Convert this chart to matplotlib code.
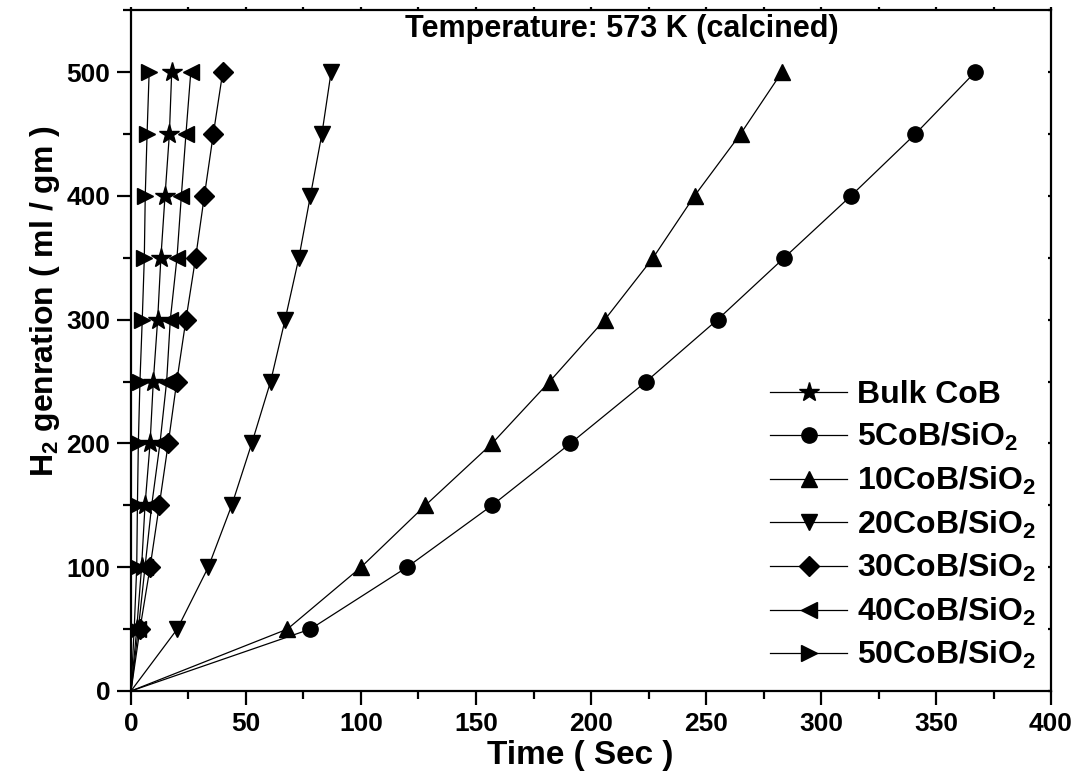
import matplotlib
matplotlib.use('Agg')
import matplotlib.pyplot as plt
from matplotlib.ticker import MultipleLocator

plt.rcParams['font.family'] = 'Liberation Sans'
plt.rcParams['font.weight'] = 'bold'
plt.rcParams['mathtext.default'] = 'regular'

# H2 volume steps (ml/gm), same for every sample
volume = [0, 50, 100, 150, 200, 250, 300, 350, 400, 450, 500]

# time (s) needed to reach each volume
t_bulk = [0, 2.5, 4.6, 6.1, 8.3, 9.7, 11.6, 13.0, 14.8, 16.7, 17.7]
t_5 = [0, 78, 120, 157, 191, 224, 255, 284, 313, 341, 367]
t_10 = [0, 68, 100, 128, 157, 182, 206, 227, 245, 265, 283]
t_20 = [0, 20.1, 33.6, 43.8, 52.5, 60.7, 67, 73, 78, 83, 87]
t_30 = [0, 3.9, 8.3, 12.3, 16.2, 19.9, 23.9, 28.1, 31.9, 35.8, 39.9]
t_40 = [0, 3.2, 6.1, 9.0, 12.6, 15.5, 17.1, 20.0, 21.9, 23.9, 26.0]
t_50 = [0, 1.4, 2.5, 2.8, 3.2, 3.9, 4.9, 5.8, 6.2, 7.0, 7.9]

series = [
    (t_bulk, '*', 15, 'Bulk CoB'),
    (t_5, 'o', 11, '5CoB/SiO$_2$'),
    (t_10, '^', 12, '10CoB/SiO$_2$'),
    (t_20, 'v', 12, '20CoB/SiO$_2$'),
    (t_30, 'D', 10, '30CoB/SiO$_2$'),
    (t_40, '<', 12, '40CoB/SiO$_2$'),
    (t_50, '>', 12, '50CoB/SiO$_2$'),
]

fig = plt.figure(figsize=(10.78, 7.83), dpi=100)
ax = fig.add_axes([0.1215, 0.1175, 0.8535, 0.8695])

# no marker at the origin, only the lines start there
for t, m, ms, lab in series:
    ax.plot(t, volume, color='black', lw=0.9, marker=m, ms=ms,
            markevery=slice(1, None), label=lab)

ax.set_xlim(0, 400)
ax.set_ylim(0, 550)
ax.xaxis.set_major_locator(MultipleLocator(50))
ax.xaxis.set_minor_locator(MultipleLocator(25))
ax.yaxis.set_major_locator(MultipleLocator(100))
ax.yaxis.set_minor_locator(MultipleLocator(50))

for s in ax.spines.values():
    s.set_linewidth(1.6)
ax.tick_params(which='major', direction='out', length=10, width=1.6,
               labelsize=19, pad=5, top=True, right=True)
ax.tick_params(which='minor', direction='out', length=6, width=1.6,
               top=True, right=True)

# tiny inward marks on the top and right frame
for tk in ax.xaxis.get_major_ticks() + ax.xaxis.get_minor_ticks():
    tk.tick2line.set_marker(2)
    tk.tick2line.set_markersize(2.5)
for tk in ax.yaxis.get_major_ticks() + ax.yaxis.get_minor_ticks():
    tk.tick2line.set_marker(0)
    tk.tick2line.set_markersize(2.5)

ax.set_xlabel('Time ( Sec )', fontsize=24, fontweight='bold')
ax.xaxis.set_label_coords(0.4886, -0.072)
ax.set_ylabel('H$_2$ genration ( ml / gm )', fontsize=23, fontweight='bold')
ax.yaxis.set_label_coords(-0.075, 0.572)

ax.text(0.533, 0.972, 'Temperature: 573 K (calcined)', transform=ax.transAxes,
        ha='center', va='center', fontsize=22, fontweight='bold')

ax.legend(loc='upper left', bbox_to_anchor=(0.695, 0.457), frameon=False,
          prop={'size': 23, 'weight': 'bold'}, handlelength=2.4,
          handletextpad=0.3, labelspacing=0.36, borderpad=0,
          borderaxespad=0)

fig.savefig('out.png', dpi=100)
